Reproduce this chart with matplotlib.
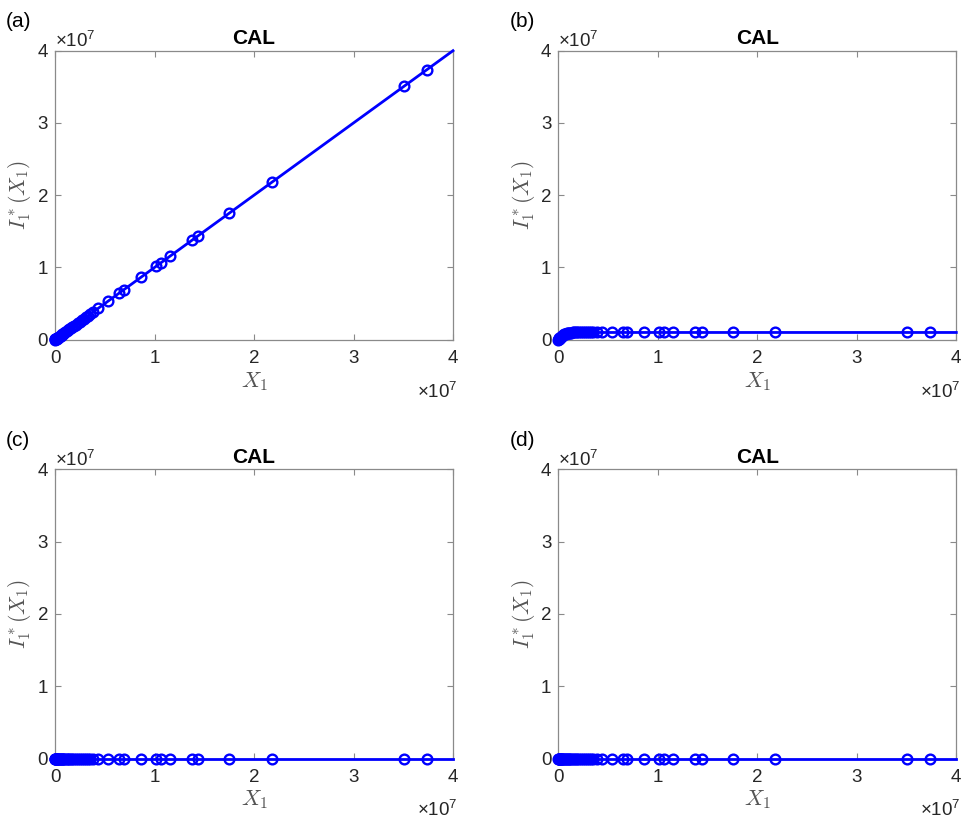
import numpy as np
import matplotlib
matplotlib.use("Agg")
import matplotlib.pyplot as plt
from matplotlib.ticker import FuncFormatter

plt.rcParams['font.family'] = ['Liberation Sans', 'DejaVu Sans']
plt.rcParams['mathtext.fontset'] = 'custom'
plt.rcParams['mathtext.rm'] = 'Liberation Sans'
plt.rcParams['mathtext.it'] = 'Liberation Sans:italic'

# data, in units of 1e7
X1 = [0.001, 0.003, 0.005, 0.008, 0.012, 0.016, 0.02, 0.025, 0.03, 0.036,
      0.042, 0.05, 0.058, 0.066, 0.075, 0.085, 0.095, 0.105, 0.118, 0.13,
      0.145, 0.16, 0.175, 0.19, 0.21, 0.23, 0.25, 0.27, 0.29, 0.31, 0.33,
      0.352, 0.385, 0.435, 0.536, 0.646, 0.693, 0.861, 1.015, 1.062, 1.156,
      1.374, 1.44, 1.752, 2.18, 3.508, 3.735]
# (a) identity
I_a = [0.001, 0.003, 0.005, 0.008, 0.012, 0.016, 0.02, 0.025, 0.03, 0.036,
       0.042, 0.05, 0.058, 0.066, 0.075, 0.085, 0.095, 0.105, 0.118, 0.13,
       0.145, 0.16, 0.175, 0.19, 0.21, 0.23, 0.25, 0.27, 0.29, 0.31, 0.33,
       0.352, 0.385, 0.435, 0.536, 0.646, 0.693, 0.861, 1.015, 1.062, 1.156,
       1.374, 1.44, 1.752, 2.18, 3.508, 3.735]
# (b) saturates near 1e6
I_b = [0.0015, 0.0045, 0.0075, 0.012, 0.018, 0.024, 0.030, 0.037, 0.043, 0.050,
       0.057, 0.065, 0.072, 0.078, 0.084, 0.089, 0.093, 0.096, 0.098, 0.099,
       0.100, 0.100, 0.100, 0.100, 0.100, 0.100, 0.100, 0.100, 0.100, 0.100, 0.100,
       0.100, 0.100, 0.100, 0.100, 0.100, 0.100, 0.100, 0.100, 0.100, 0.100,
       0.100, 0.100, 0.100, 0.100, 0.100, 0.100]
# (c), (d) essentially zero
I_c = [0.0] * len(X1)
I_d = [0.0] * len(X1)

x_end = 4.0
series = [("(a)", I_a, I_a[-1] * x_end / X1[-1]),
          ("(b)", I_b, 0.100),
          ("(c)", I_c, 0.0),
          ("(d)", I_d, 0.0)]

W, H = 963, 819
fig = plt.figure(figsize=(W / 100, H / 100), dpi=100)

lefts = [55, 558.3]
tops = [50.7, 469.5]
aw, ah = 398, 289

blue = '#0000ff'
gray = '#8a8a8a'
dark = '#262626'

fmt = FuncFormatter(lambda v, p: '%g' % (v / 1e7))

for i, (lab, ys, yend) in enumerate(series):
    r, c = divmod(i, 2)
    l = lefts[c]
    t = tops[r]
    ax = fig.add_axes([l / W, 1 - (t + ah) / H, aw / W, ah / H])
    xs = np.array(X1) * 1e7
    yv = np.array(ys) * 1e7
    cx = np.concatenate([[0], xs, [x_end * 1e7]])
    cy = np.concatenate([[0], yv, [yend * 1e7]])
    ax.plot(cx, cy, '-', color=blue, lw=2.0, clip_on=False, zorder=3)
    ax.plot(xs, yv, 'o', mfc='none', mec=blue, ms=7, mew=1.7,
            clip_on=False, zorder=4)
    ax.set_xlim(0, 4e7)
    ax.set_ylim(0, 4e7)
    ax.set_xticks([0, 1e7, 2e7, 3e7, 4e7])
    ax.set_yticks([0, 1e7, 2e7, 3e7, 4e7])
    ax.xaxis.set_major_formatter(fmt)
    ax.yaxis.set_major_formatter(fmt)
    ax.tick_params(direction='in', length=4, width=0.8, color=gray,
                   labelcolor=dark, labelsize=13.5, top=True, right=True)
    ax.tick_params(axis='x', pad=7.5)
    ax.tick_params(axis='y', pad=5)
    for s in ax.spines.values():
        s.set_color(gray)
        s.set_linewidth(0.9)
    ax.set_title('CAL', fontsize=15, fontweight='bold', color='black', pad=5)
    ax.set_xlabel(r'$X_1$', fontsize=16, color='#555555',
                  math_fontfamily='cm', labelpad=2)
    ax.set_ylabel(r'$I_1^*(X_1)$', fontsize=15.5, color='#555555',
                  math_fontfamily='cm', labelpad=3)
    ax.text(0.0, 1.013, '×10$^7$', transform=ax.transAxes,
            fontsize=13.5, color=dark, ha='left', va='baseline')
    ax.text(1.012, -0.2, '×10$^7$', transform=ax.transAxes,
            fontsize=13.5, color=dark, ha='right', va='baseline')
    fig.text((l - 49) / W, 1 - (t - 29) / H, lab, fontsize=15,
             color='black', ha='left', va='center')

fig.savefig('out.png', dpi=100)
